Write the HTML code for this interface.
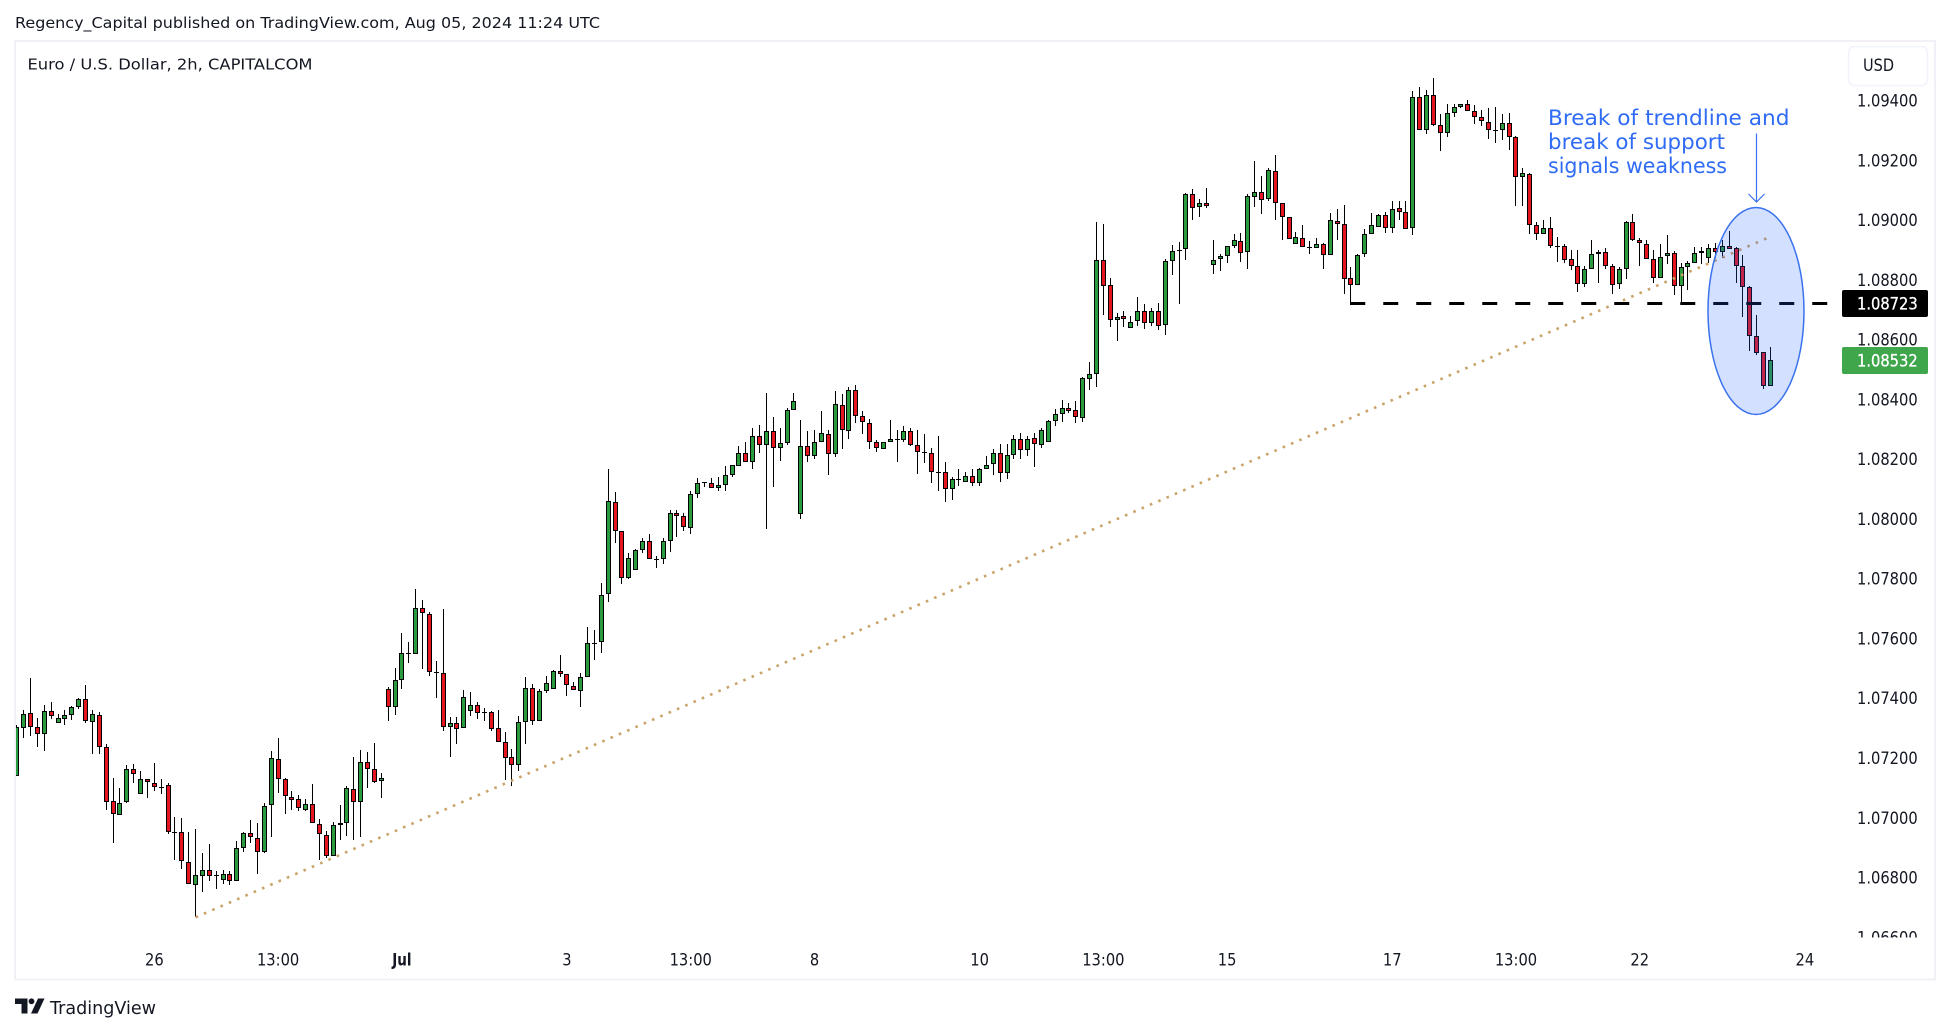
<!DOCTYPE html>
<html lang="en">
<head>
<meta charset="utf-8">
<title>EURUSD 2h chart</title>
<style>
html,body{margin:0;padding:0;background:#fff;width:1950px;height:1033px;overflow:hidden}
svg{display:block;position:absolute;left:0;top:0}
text{font-family:"DejaVu Sans","Liberation Sans",sans-serif;fill:#131722}
</style>
</head>
<body>
<svg id="chart" xmlns="http://www.w3.org/2000/svg" width="1950" height="1033" viewBox="0 0 1950 1033">
  <defs>
    <clipPath id="pane-clip"><rect x="16" y="42" width="1838" height="896"/></clipPath>
    <clipPath id="scale-clip"><rect x="1840" y="42" width="95" height="895.5"/></clipPath>
  </defs>
  <text x="15" y="28" font-size="15.5" textLength="585" lengthAdjust="spacingAndGlyphs">Regency_Capital published on TradingView.com, Aug 05, 2024 11:24 UTC</text>
  <rect x="15" y="41" width="1920" height="938.5" fill="#fff" stroke="#f0f0f6" stroke-width="2"/>
  <text x="27.5" y="69.5" font-size="15.5" textLength="285" lengthAdjust="spacingAndGlyphs">Euro / U.S. Dollar, 2h, CAPITALCOM</text>
  <rect x="1848.5" y="46.5" width="79" height="39" rx="6" fill="#fff" stroke="#f0f3fa" stroke-width="1.5"/>
  <text x="1863" y="71" font-size="16.5" textLength="31" lengthAdjust="spacingAndGlyphs">USD</text>
  <g id="price-ticks" clip-path="url(#scale-clip)"></g>
  <g id="time-ticks"></g>
  <g id="candles" clip-path="url(#pane-clip)"></g>
  <g id="drawings" clip-path="url(#pane-clip)"></g>
  <g id="annotation"></g>
  <g>
    <path d="M15 998.5h12.5v15h-6v-9.5H15z M38 998.5h6.5l-7 15h-6.5z" fill="#131722"/>
    <circle cx="31.5" cy="1001.3" r="2.9" fill="#131722"/>
    <text x="50" y="1014" font-size="18" textLength="106" lengthAdjust="spacingAndGlyphs">TradingView</text>
  </g>
</svg>
<script>
const highs = [
1.07313,1.07363,1.07470,1.07335,1.07380,1.07390,1.07348,1.07363,1.07375,1.07402,
1.07446,1.07362,1.07355,1.07248,1.07135,1.07102,1.07178,1.07182,1.07159,1.07131,
1.07185,1.07131,1.07117,1.07005,1.07001,1.06955,1.06965,1.06883,1.06914,1.06823,
1.06826,1.06823,1.06924,1.06953,1.06994,1.06985,1.07051,1.07226,1.07268,1.07134,
1.07092,1.07078,1.07065,1.07115,1.06997,1.06957,1.06987,1.07045,1.07109,1.07206,
1.07229,1.07222,1.07252,1.07151,1.07439,1.07502,1.07620,1.07591,1.07767,1.07731,
1.07690,1.07526,1.07700,1.07338,1.07338,1.07429,1.07422,1.07389,1.07369,1.07359,
1.07362,1.07288,1.07231,1.07342,1.07472,1.07449,1.07432,1.07476,1.07496,1.07546,
1.07482,1.07456,1.07486,1.07640,1.07630,1.07787,1.08168,1.08091,1.07960,1.07887,
1.07903,1.07937,1.07950,1.07877,1.07937,1.08031,1.08031,1.08021,1.08094,1.08138,
1.08127,1.08138,1.08141,1.08178,1.08181,1.08245,1.08258,1.08305,1.08318,1.08422,
1.08342,1.08305,1.08372,1.08425,1.08332,1.08295,1.08298,1.08362,1.08298,1.08429,
1.08419,1.08445,1.08450,1.08362,1.08335,1.08265,1.08258,1.08332,1.08298,1.08312,
1.08305,1.08298,1.08285,1.08241,1.08281,1.08194,1.08141,1.08168,1.08158,1.08168,
1.08171,1.08211,1.08235,1.08252,1.08252,1.08282,1.08289,1.08279,1.08289,1.08305,
1.08332,1.08369,1.08399,1.08389,1.08396,1.08476,1.08526,1.08995,1.08988,1.08808,
1.08691,1.08697,1.08680,1.08744,1.08721,1.08707,1.08724,1.08871,1.08918,1.08928,
1.09092,1.09105,1.09072,1.09109,1.08935,1.08888,1.08915,1.08955,1.08958,1.09089,
1.09199,1.09149,1.09176,1.09219,1.09059,1.09012,1.08962,1.08985,1.08931,1.08941,
1.08925,1.09025,1.09038,1.09052,1.08844,1.08888,1.08972,1.09025,1.09023,1.09029,
1.09066,1.09066,1.09066,1.09433,1.09446,1.09436,1.09476,1.09356,1.09389,1.09392,
1.09392,1.09403,1.09386,1.09369,1.09376,1.09382,1.09356,1.09362,1.09285,1.09178,
1.09158,1.08994,1.09001,1.09014,1.08944,1.08921,1.08901,1.08901,1.08847,1.08937,
1.08901,1.08907,1.08854,1.08844,1.08998,1.09024,1.08941,1.08934,1.08901,1.08921,
1.08951,1.08897,1.08860,1.08864,1.08911,1.08911,1.08921,1.08924,1.08937,1.08964,
1.08911,1.08884,1.08781,1.08684,1.08560,1.08577];
const lows = [
1.07142,1.07270,1.07277,1.07240,1.07227,1.07332,1.07318,1.07314,1.07330,1.07365,
1.07320,1.07217,1.07217,1.07029,1.06916,1.07010,1.07051,1.07119,1.07081,1.07069,
1.07093,1.07083,1.06946,1.06862,1.06829,1.06779,1.06669,1.06752,1.06792,1.06762,
1.06782,1.06778,1.06790,1.06889,1.06919,1.06815,1.06883,1.06936,1.07085,1.07013,
1.07029,1.07024,1.07024,1.06984,1.06862,1.06866,1.06873,1.06926,1.06942,1.06929,
1.06936,1.07102,1.07117,1.07069,1.07327,1.07347,1.07434,1.07521,1.07549,1.07501,
1.07478,1.07404,1.07291,1.07204,1.07250,1.07302,1.07344,1.07334,1.07327,1.07291,
1.07255,1.07130,1.07107,1.07157,1.07250,1.07314,1.07325,1.07421,1.07432,1.07473,
1.07411,1.07429,1.07371,1.07472,1.07531,1.07555,1.07725,1.07922,1.07784,1.07802,
1.07830,1.07887,1.07867,1.07839,1.07852,1.07892,1.07942,1.07963,1.07953,1.08073,
1.08110,1.08107,1.08096,1.08096,1.08141,1.08178,1.08191,1.08168,1.08223,1.07969,
1.08110,1.08197,1.08250,1.08368,1.08003,1.08193,1.08203,1.08261,1.08150,1.08210,
1.08237,1.08270,1.08324,1.08287,1.08237,1.08227,1.08235,1.08258,1.08193,1.08261,
1.08245,1.08153,1.08190,1.08123,1.08096,1.08059,1.08066,1.08113,1.08127,1.08113,
1.08113,1.08168,1.08150,1.08124,1.08137,1.08201,1.08201,1.08211,1.08177,1.08241,
1.08259,1.08314,1.08328,1.08358,1.08324,1.08328,1.08435,1.08445,1.08685,1.08643,
1.08599,1.08643,1.08640,1.08649,1.08636,1.08646,1.08633,1.08619,1.08817,1.08720,
1.08870,1.09004,1.09011,1.09041,1.08820,1.08833,1.08860,1.08907,1.08863,1.08837,
1.09047,1.09021,1.09067,1.09001,1.08934,1.08938,1.08921,1.08911,1.08887,1.08908,
1.08837,1.08885,1.08937,1.08756,1.08717,1.08784,1.08878,1.08955,1.08978,1.08958,
1.08958,1.09004,1.08971,1.08951,1.09302,1.09289,1.09316,1.09234,1.09281,1.09346,
1.09376,1.09366,1.09322,1.09316,1.09274,1.09261,1.09271,1.09237,1.09050,1.09050,
1.08956,1.08937,1.08954,1.08907,1.08863,1.08860,1.08834,1.08762,1.08777,1.08837,
1.08792,1.08837,1.08756,1.08770,1.08804,1.08931,1.08847,1.08871,1.08790,1.08807,
1.08854,1.08750,1.08727,1.08767,1.08860,1.08855,1.08857,1.08874,1.08874,1.08904,
1.08793,1.08679,1.08565,1.08550,1.08438,1.08446];
const opens = [
1.07142,1.07304,1.07352,1.07305,1.07281,1.07358,1.07318,1.07332,1.07345,1.07372,
1.07398,1.07322,1.07345,1.07238,1.07057,1.07010,1.07054,1.07164,1.07081,1.07131,
1.07117,1.07106,1.07111,1.06953,1.06953,1.06853,1.06776,1.06806,1.06826,1.06808,
1.06793,1.06813,1.06790,1.06900,1.06950,1.06933,1.06887,1.07044,1.07198,1.07131,
1.07071,1.07064,1.07027,1.07047,1.06980,1.06943,1.06873,1.06977,1.06984,1.07097,
1.07054,1.07188,1.07164,1.07124,1.07432,1.07372,1.07462,1.07552,1.07549,1.07703,
1.07683,1.07489,1.07486,1.07305,1.07318,1.07302,1.07359,1.07379,1.07355,1.07355,
1.07302,1.07255,1.07205,1.07178,1.07322,1.07436,1.07325,1.07425,1.07432,1.07492,
1.07482,1.07442,1.07425,1.07472,1.07585,1.07589,1.07750,1.08057,1.07960,1.07805,
1.07830,1.07897,1.07927,1.07867,1.07867,1.07927,1.08021,1.08011,1.07970,1.08084,
1.08124,1.08121,1.08107,1.08117,1.08148,1.08178,1.08221,1.08191,1.08278,1.08248,
1.08295,1.08241,1.08255,1.08368,1.08020,1.08245,1.08214,1.08261,1.08285,1.08218,
1.08382,1.08295,1.08435,1.08345,1.08322,1.08261,1.08235,1.08258,1.08271,1.08265,
1.08295,1.08248,1.08225,1.08221,1.08158,1.08158,1.08101,1.08134,1.08127,1.08144,
1.08121,1.08168,1.08185,1.08222,1.08155,1.08215,1.08269,1.08232,1.08272,1.08249,
1.08259,1.08329,1.08352,1.08372,1.08366,1.08339,1.08469,1.08486,1.08868,1.08784,
1.08667,1.08680,1.08640,1.08664,1.08697,1.08657,1.08697,1.08650,1.08864,1.08898,
1.08905,1.09089,1.09045,1.09059,1.08851,1.08871,1.08881,1.08915,1.08931,1.08895,
1.09079,1.09095,1.09072,1.09166,1.09059,1.09012,1.08921,1.08941,1.08911,1.08908,
1.08921,1.08885,1.08998,1.08988,1.08808,1.08784,1.08888,1.08955,1.08978,1.09018,
1.08974,1.09041,1.09028,1.08974,1.09413,1.09302,1.09419,1.09319,1.09292,1.09362,
1.09382,1.09392,1.09366,1.09346,1.09329,1.09305,1.09302,1.09326,1.09279,1.09145,
1.09155,1.08984,1.08954,1.08974,1.08917,1.08917,1.08871,1.08847,1.08787,1.08837,
1.08887,1.08894,1.08847,1.08787,1.08840,1.08994,1.08937,1.08921,1.08871,1.08807,
1.08881,1.08891,1.08780,1.08844,1.08860,1.08891,1.08874,1.08907,1.08894,1.08917,
1.08908,1.08848,1.08777,1.08613,1.08560,1.08446];
const closes = [
1.07305,1.07348,1.07305,1.07281,1.07358,1.07342,1.07335,1.07345,1.07372,1.07398,
1.07325,1.07348,1.07238,1.07054,1.07014,1.07051,1.07164,1.07148,1.07131,1.07121,
1.07104,1.07105,1.06953,1.06952,1.06856,1.06779,1.06810,1.06826,1.06806,1.06810,
1.06813,1.06790,1.06900,1.06950,1.06937,1.06887,1.07040,1.07201,1.07131,1.07074,
1.07061,1.07034,1.07047,1.06984,1.06947,1.06873,1.06977,1.06984,1.07101,1.07054,
1.07188,1.07164,1.07121,1.07134,1.07372,1.07462,1.07553,1.07553,1.07703,1.07686,
1.07489,1.07485,1.07305,1.07318,1.07298,1.07405,1.07379,1.07352,1.07354,1.07298,
1.07255,1.07201,1.07178,1.07322,1.07436,1.07325,1.07425,1.07452,1.07492,1.07482,
1.07446,1.07429,1.07472,1.07586,1.07586,1.07747,1.08061,1.07960,1.07803,1.07870,
1.07897,1.07927,1.07867,1.07866,1.07927,1.08021,1.08011,1.07974,1.08084,1.08121,
1.08123,1.08107,1.08117,1.08148,1.08181,1.08221,1.08191,1.08281,1.08248,1.08295,
1.08241,1.08255,1.08368,1.08395,1.08245,1.08214,1.08261,1.08288,1.08218,1.08385,
1.08298,1.08435,1.08345,1.08325,1.08258,1.08241,1.08258,1.08268,1.08265,1.08295,
1.08248,1.08225,1.08223,1.08158,1.08156,1.08101,1.08134,1.08133,1.08144,1.08121,
1.08168,1.08184,1.08222,1.08155,1.08215,1.08269,1.08232,1.08269,1.08252,1.08299,
1.08329,1.08352,1.08372,1.08362,1.08342,1.08473,1.08486,1.08868,1.08781,1.08667,
1.08677,1.08670,1.08660,1.08697,1.08657,1.08697,1.08647,1.08864,1.08898,1.08901,
1.09089,1.09042,1.09059,1.09049,1.08868,1.08881,1.08915,1.08935,1.08891,1.09082,
1.09095,1.09069,1.09169,1.09059,1.09012,1.08938,1.08945,1.08911,1.08909,1.08921,
1.08885,1.09002,1.08988,1.08804,1.08784,1.08885,1.08955,1.08985,1.09018,1.08974,
1.09038,1.09028,1.08971,1.09413,1.09302,1.09419,1.09319,1.09292,1.09362,1.09382,
1.09389,1.09366,1.09346,1.09332,1.09305,1.09302,1.09326,1.09279,1.09145,1.09158,
1.08984,1.08954,1.08974,1.08917,1.08916,1.08867,1.08847,1.08787,1.08840,1.08887,
1.08894,1.08847,1.08784,1.08840,1.08994,1.08937,1.08924,1.08871,1.08807,1.08877,
1.08891,1.08780,1.08844,1.08860,1.08891,1.08897,1.08907,1.08894,1.08917,1.08904,
1.08848,1.08777,1.08613,1.08557,1.08446,1.08533];
const priceTicks = [1.094,1.092,1.09,1.088,1.086,1.084,1.082,1.08,1.078,1.076,1.074,1.072,1.07,1.068,1.066];
const timeLabels = ["26","13:00","Jul","3","13:00","8","10","13:00","15","17","13:00","22","24"];
const timeBars = [20,38,56,80,98,116,140,158,176,200,218,236,260];
const supportPrice = 1.08723;
const lastPrice = 1.08532;
const supportStartBar = 193.9;
const trendBars = [26,254.45];
const trendPrices = [1.06669,1.08941];
const zoneBar = 252.9;
const zonePrice = 1.08698;

const SVGNS = 'http://www.w3.org/2000/svg';
function xScale(i){ return 16.8 + 6.877 * i; }
function yScale(p){ return 220.7 + (1.09 - p) * 29883; }
function make(tag, parent){
  const el = document.createElementNS(SVGNS, tag);
  parent.appendChild(el);
  return el;
}
function setRect(el, x, y, w, h, fill){
  el.setAttribute('x', x);
  el.setAttribute('y', y);
  el.setAttribute('width', w);
  el.setAttribute('height', h);
  el.setAttribute('fill', fill);
}
function squeeze(el, ratio){
  el.setAttribute('textLength', (el.getComputedTextLength() * ratio).toFixed(1));
  el.setAttribute('lengthAdjust', 'spacingAndGlyphs');
}

/* price axis */
const priceG = document.getElementById('price-ticks');
priceTicks.forEach(function(p){
  const t = make('text', priceG);
  
  
  t.setAttribute('x', 1857);
  t.setAttribute('y', yScale(p) + 5.4);
  t.setAttribute('font-size', '16.5');
  t.textContent = p.toFixed(5);
  squeeze(t, 0.89);
});

/* time axis */
const timeG = document.getElementById('time-ticks');
timeLabels.forEach(function(label, k){
  const t = make('text', timeG);
  
  
  t.setAttribute('x', xScale(timeBars[k]));
  t.setAttribute('y', 965.5);
  t.setAttribute('text-anchor', 'middle');
  t.setAttribute('font-size', '16.5');
  if (label === 'Jul') t.setAttribute('font-weight', '700');
  t.textContent = label;
  squeeze(t, label === 'Jul' ? 0.82 : 0.89);
});

/* candles */
const candleG = document.getElementById('candles');
closes.forEach(function(c, i){
  const o = opens[i];
  const up = c >= o;
  const col = Math.floor(xScale(i));
  const g = make('g', candleG);
  
  
  const wick = make('rect', g);
  
  
  const yh = Math.round(yScale(highs[i]));
  const yl = Math.round(yScale(lows[i]));
  setRect(wick, col, yh, 1, Math.max(1, yl - yh), '#000');
  const top = Math.round(yScale(Math.max(o, c)));
  const bot = Math.round(yScale(Math.min(o, c)));
  const h = Math.max(1, bot - top);
  const body = make('rect', g);
  
  
  setRect(body, col - 2, top, 5, h, '#000');
  if (h > 2) {
    const fill = make('rect', g);
    
    
    setRect(fill, col - 1, top + 1, 3, h - 2, up ? '#2b9c3d' : '#e5161f');
  }
});

/* drawings */
const drawG = document.getElementById('drawings');
const trend = make('line', drawG);


trend.setAttribute('x1', xScale(trendBars[0]));
trend.setAttribute('y1', yScale(trendPrices[0]));
trend.setAttribute('x2', xScale(trendBars[1]));
trend.setAttribute('y2', yScale(trendPrices[1]));
trend.setAttribute('stroke', '#c9a368');
trend.setAttribute('stroke-width', '2.6');
trend.setAttribute('stroke-dasharray', '2.6 6.44');

const support = make('line', drawG);


support.setAttribute('x1', xScale(supportStartBar));
support.setAttribute('y1', yScale(supportPrice));
support.setAttribute('x2', 1842);
support.setAttribute('y2', yScale(supportPrice));
support.setAttribute('stroke', '#000');
support.setAttribute('stroke-width', '3');
support.setAttribute('stroke-dasharray', '15 18');

const zone = make('ellipse', drawG);


zone.setAttribute('cx', xScale(zoneBar));
zone.setAttribute('cy', yScale(zonePrice));
zone.setAttribute('rx', 48);
zone.setAttribute('ry', 103.5);
zone.setAttribute('fill', 'rgba(41,98,255,0.2)');
zone.setAttribute('stroke', '#3a72ee');
zone.setAttribute('stroke-width', '1.5');

/* annotation text and arrow */
const annG = document.getElementById('annotation');
const annLines = ['Break of trendline and', 'break of support', 'signals weakness'];
const annWidths = [241.5, 177, 179];
annLines.forEach(function(line, k){
  const t = make('text', annG);
  
  
  t.setAttribute('x', 1548);
  t.setAttribute('y', 125 + 24 * k);
  t.setAttribute('font-size', '21.5');
  t.setAttribute('textLength', annWidths[k]);
  t.setAttribute('lengthAdjust', 'spacingAndGlyphs');
  t.style.fill = '#2f6bf5';
  t.textContent = line;
});
const arrow = make('path', annG);


arrow.setAttribute('d', 'M1756.5 133.5V202M1748.5 194L1756.5 202L1764.5 194');
arrow.setAttribute('fill', 'none');
arrow.setAttribute('stroke', '#3a72ee');
arrow.setAttribute('stroke-width', '1.2');

/* price labels */
function priceTag(price, color, name){
  const cy = yScale(price);
  const box = make('rect', annG);
  
  
  box.setAttribute('x', 1842);
  box.setAttribute('y', Math.round(cy - 13.5));
  box.setAttribute('width', 86);
  box.setAttribute('height', 27);
  box.setAttribute('rx', 2);
  box.setAttribute('fill', color);
  const t = make('text', annG);
  
  
  t.setAttribute('x', 1857);
  t.setAttribute('y', cy + 6);
  t.setAttribute('font-size', '16.5');
  t.setAttribute('stroke', '#fff');
  t.setAttribute('stroke-width', '0.3');
  t.style.fill = '#fff';
  t.textContent = price.toFixed(5);
  squeeze(t, 0.89);
}
priceTag(supportPrice, '#000', 'support-price-label');
priceTag(lastPrice, '#3fa64c', 'last-price-label');
</script>
</body>
</html>
